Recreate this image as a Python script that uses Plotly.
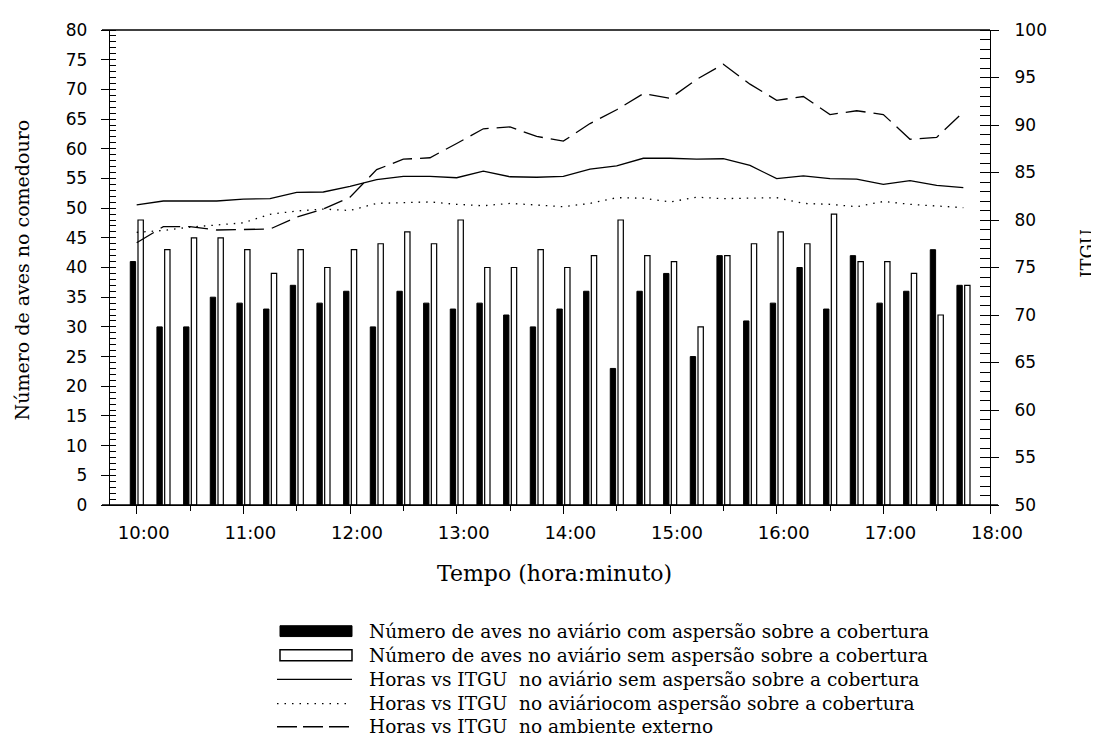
import plotly.graph_objects as go

# ---------------- data ----------------
horas = ["10:00", "10:15", "10:30", "10:45", "11:00", "11:15", "11:30", "11:45",
         "12:00", "12:15", "12:30", "12:45", "13:00", "13:15", "13:30", "13:45",
         "14:00", "14:15", "14:30", "14:45", "15:00", "15:15", "15:30", "15:45",
         "16:00", "16:15", "16:30", "16:45", "17:00", "17:15", "17:30", "17:45"]

aves_com_aspersao = [41, 30, 30, 35, 34, 33, 37, 34, 36, 30, 36, 34, 33, 34, 32, 30,
                     33, 36, 23, 36, 39, 25, 42, 31, 34, 40, 33, 42, 34, 36, 43, 37]
aves_sem_aspersao = [48, 43, 45, 45, 43, 39, 43, 40, 43, 44, 46, 44, 48, 40, 40, 43,
                     40, 42, 48, 42, 41, 30, 42, 44, 46, 44, 49, 41, 41, 39, 32, 37]

itgu_sem_aspersao = [81.6, 82.0, 82.0, 82.0, 82.2, 82.25, 82.9, 82.95, 83.55, 84.25,
                     84.6, 84.6, 84.45, 85.15, 84.55, 84.5, 84.6, 85.35, 85.7, 86.5,
                     86.5, 86.4, 86.45, 85.75, 84.35, 84.65, 84.35, 84.3, 83.75, 84.15,
                     83.65, 83.4]
itgu_com_aspersao = [78.7, 78.9, 79.25, 79.5, 79.7, 80.6, 80.95, 81.15, 81.0, 81.75,
                     81.85, 81.9, 81.65, 81.5, 81.75, 81.6, 81.4, 81.75, 82.35, 82.3,
                     81.9, 82.4, 82.25, 82.3, 82.35, 81.75, 81.65, 81.4, 81.95, 81.65,
                     81.5, 81.3]
itgu_externo = [77.6, 79.3, 79.3, 78.95, 79.0, 79.05, 80.3, 81.15, 82.4, 85.3,
                86.4, 86.55, 88.05, 89.6, 89.8, 88.8, 88.3, 90.15, 91.6, 93.3,
                92.8, 94.8, 96.4, 94.3, 92.6, 93.0, 91.1, 91.5, 91.1, 88.5,
                88.7, 91.35]

x_tick_labels = ["10:00", "11:00", "12:00", "13:00", "14:00", "15:00", "16:00", "17:00", "18:00"]

nomes = ["Número de aves no aviário com aspersão sobre a cobertura",
         "Número de aves no aviário sem aspersão sobre a cobertura",
         "Horas vs ITGU\u00a0 no aviário sem aspersão sobre a cobertura",
         "Horas vs ITGU\u00a0 no aviáriocom aspersão sobre a cobertura",
         "Horas vs ITGU\u00a0 no ambiente externo"]

titulo_x = "Tempo (hora:minuto)"
titulo_y = "Número de aves no comedouro"
titulo_y2 = "ITGU"


def to_hours(s):
    h, m = s.split(":")
    return int(h) + int(m) / 60.0


x = [to_hours(h) for h in horas]
x_ticks = [to_hours(h) for h in x_tick_labels]
x_minor = [t + 0.5 for t in x_ticks[:-1]]

# ---------------- figure ----------------
# the page body has an 8px margin, so the figure is drawn 8px smaller and
# all page-pixel positions below are converted to figure pixels
OFF = 8
W, H = 1099 - OFF, 738 - OFF
ML, MR, MT, MB = 110 - OFF, 109, 23 - OFF, 233
PW = W - ML - MR
PH = H - MT - MB


def px_x(p):
    return (p - OFF - ML) / PW


def px_y(p):
    return (H - MB - (p - OFF)) / PH


LW = 1.3
SERIF = "DejaVu Serif"
SANS = "DejaVu Sans"

fig = go.Figure()

fig.add_trace(go.Bar(x=x, y=aves_com_aspersao, name=nomes[0], yaxis="y",
                     marker=dict(color="black", line=dict(color="black", width=1)),
                     width=0.05, offset=-0.06, showlegend=False))
fig.add_trace(go.Bar(x=x, y=aves_sem_aspersao, name=nomes[1], yaxis="y",
                     marker=dict(color="white", line=dict(color="black", width=1.2)),
                     width=0.05, offset=0.0125, showlegend=False))

line_styles = [("solid", itgu_sem_aspersao, nomes[2]),
               ("1.5px,6px", itgu_com_aspersao, nomes[3]),
               ("20px,8px", itgu_externo, nomes[4])]
for dash, vals, nm in line_styles:
    fig.add_trace(go.Scatter(x=x, y=vals, name=nm, yaxis="y2", mode="lines",
                             line=dict(color="black", width=LW, dash=dash),
                             showlegend=False))

fig.update_layout(
    width=W, height=H,
    margin=dict(l=ML, r=MR, t=MT, b=MB, pad=0),
    paper_bgcolor="white", plot_bgcolor="white",
    barmode="overlay",
    showlegend=False,
    xaxis=dict(range=[9.75, 18.0], tickvals=x_ticks, ticktext=x_tick_labels,
               ticks="outside", ticklen=8, tickwidth=LW, tickcolor="black",
               minor=dict(tickvals=x_minor, ticks="outside", ticklen=5,
                          tickwidth=LW, tickcolor="black", showgrid=False),
               showline=True, linecolor="black", linewidth=LW,
               showgrid=False, zeroline=False,
               tickfont=dict(family=SANS, size=18, color="black"),
               ticklabelshift=7, ticklabelstandoff=3),
    yaxis=dict(range=[0, 80], dtick=5, tick0=0,
               ticks="outside", ticklen=8, tickwidth=LW, tickcolor="black",
               minor=dict(dtick=1, ticks="inside", ticklen=6, tickwidth=1,
                          tickcolor="black", showgrid=False),
               showline=True, linecolor="black", linewidth=LW,
               showgrid=False, zeroline=False,
               tickfont=dict(family=SANS, size=17, color="black"),
               ticklabelstandoff=10),
    yaxis2=dict(range=[50, 100], dtick=5, tick0=50, overlaying="y", side="right",
                ticks="outside", ticklen=8, tickwidth=LW, tickcolor="black",
                minor=dict(dtick=1, ticks="inside", ticklen=10, tickwidth=1,
                           tickcolor="black", showgrid=False),
                showline=True, linecolor="black", linewidth=LW,
                showgrid=False, zeroline=False,
                tickfont=dict(family=SANS, size=17, color="black"),
                ticklabelstandoff=12),
)

shapes = []
annotations = []
# frame extensions (top line and bottom line slightly longer than the plot area)
shapes.append(dict(type="line", xref="paper", yref="paper", x0=px_x(102), x1=1.0,
                   y0=1, y1=1, line=dict(color="black", width=LW)))
shapes.append(dict(type="line", xref="paper", yref="paper", x0=px_x(102), x1=px_x(998),
                   y0=0, y1=0, line=dict(color="black", width=LW)))

# axis titles
annotations.append(dict(text=titulo_x, xref="paper", yref="paper", x=px_x(554), y=px_y(575),
                        xanchor="center", yanchor="middle", showarrow=False,
                        font=dict(family=SERIF, size=22, color="black")))
annotations.append(dict(text=titulo_y, xref="paper", yref="paper", x=px_x(22), y=px_y(267),
                        xanchor="center", yanchor="middle", showarrow=False, textangle=-90,
                        font=dict(family=SERIF, size=19, color="black")))
annotations.append(dict(text=titulo_y2, xref="paper", yref="paper", x=px_x(1088), y=px_y(250),
                        xanchor="center", yanchor="middle", showarrow=False, textangle=-90,
                        font=dict(family=SERIF, size=18, color="black")))

# custom legend
row_y = [633, 657.5, 682, 706.5, 730]
sx0, sx1, tx = 280, 352, 367
shapes.append(dict(type="rect", xref="paper", yref="paper",
                   x0=px_x(sx0), x1=px_x(sx1), y0=px_y(row_y[0] - 5.5), y1=px_y(row_y[0] + 5.5),
                   fillcolor="black", line=dict(color="black", width=1)))
shapes.append(dict(type="rect", xref="paper", yref="paper",
                   x0=px_x(sx0), x1=px_x(sx1), y0=px_y(row_y[1] - 5.5), y1=px_y(row_y[1] + 5.5),
                   fillcolor="white", line=dict(color="black", width=1.5)))
legend_dash = ["solid", "1.5px,6px", "20px,6px"]
for i, d in enumerate(legend_dash):
    yy = px_y(row_y[2 + i])
    shapes.append(dict(type="line", xref="paper", yref="paper",
                       x0=px_x(sx0 - 3), x1=px_x(sx1), y0=yy, y1=yy,
                       line=dict(color="black", width=LW, dash=d)))
for i, nm in enumerate(nomes):
    annotations.append(dict(text=nm, xref="paper", yref="paper", x=px_x(tx), y=px_y(row_y[i]),
                            xanchor="left", yanchor="middle", showarrow=False,
                            font=dict(family=SERIF, size=18.5, color="black")))

fig.update_layout(shapes=shapes, annotations=annotations)

fig.write_html("out.html", config={"displayModeBar": False})
